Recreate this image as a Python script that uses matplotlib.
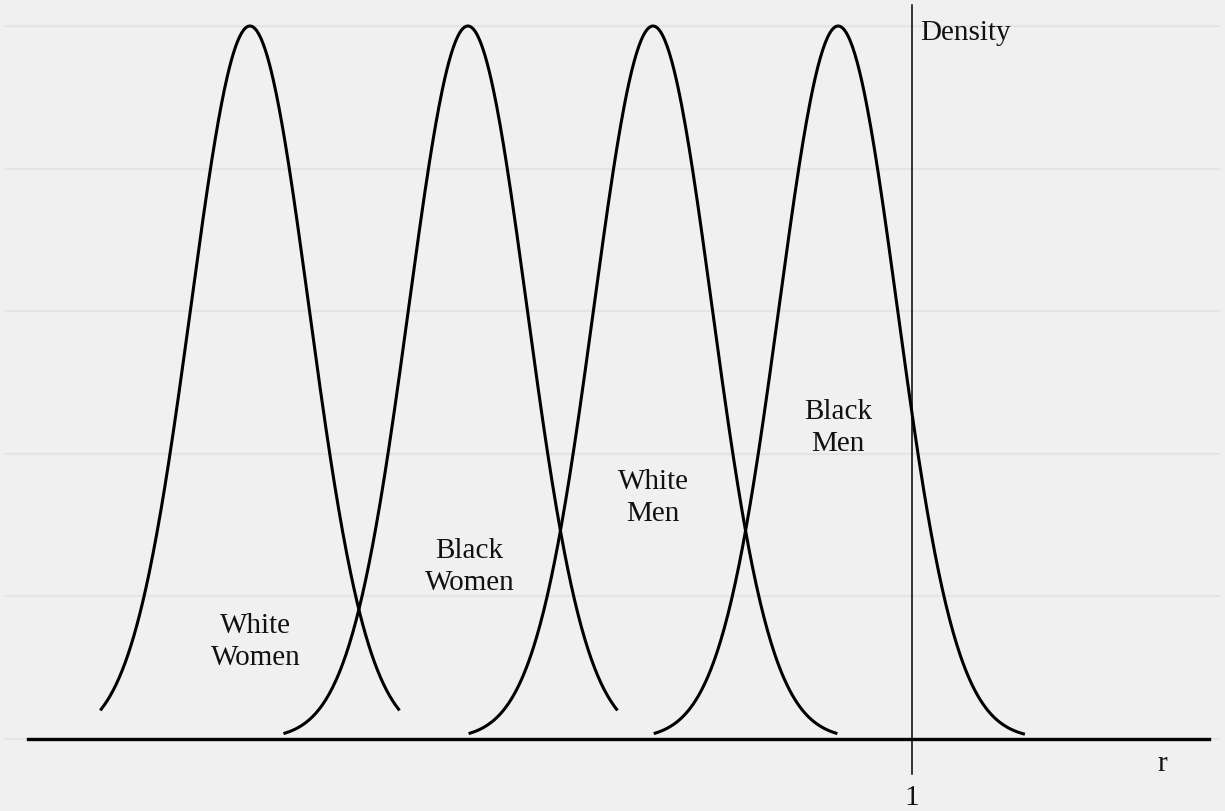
import numpy as np
from matplotlib import pyplot as plt

# groups, their mean ratio r and spread
groups = ["White\nWomen", "Black\nWomen", "White\nMen", "Black\nMen"]
means = [0.274, 0.513, 0.716, 0.919]
sd = 0.0647
# how far each curve is drawn, in sd units (left, right)
z_left = [-2.52, -3.1, -3.1, -3.1]
z_right = [2.52, 2.52, 3.1, 3.14]
grid_levels = [0.0, 0.2, 0.4, 0.6, 0.8, 1.0]

bg = "#f0f0f0"
plt.rcParams['font.family'] = ['Liberation Serif', 'DejaVu Serif']

fig = plt.figure(figsize=(12.25, 8.12), dpi=100, facecolor=bg)
ax = fig.add_axes([0, 0, 1, 1])
ax.set_facecolor(bg)

x_max = 1225 / 912
ax.set_xlim(0, x_max)
ax.set_ylim(-72 / 713, 1 + 27 / 713)

# faint horizontal grid
for g in grid_levels:
    ax.axhline(g, xmin=6 / 1225, xmax=1219 / 1225, color="#e4e4e4", lw=1.6, zorder=0)

# density curves (peak scaled to 1)
for m, zl, zr in zip(means, z_left, z_right):
    z = np.linspace(zl, zr, 300)
    ax.plot(m + z * sd, np.exp(-z**2 / 2), color="black", lw=2.2, zorder=3)

# labels under each curve
label_x = [0.28, 0.515, 0.716, 0.919]
label_y = [0.137, 0.243, 0.34, 0.437]
for name, lx, ly in zip(groups, label_x, label_y):
    ax.text(lx, ly, name, ha="center", va="center", fontsize=21,
            linespacing=1.3, color="#111111")

# x axis and the r = 1 reference line
ax.plot([28 / 912, 1209 / 912], [0, 0], color="black", lw=2.4, zorder=4)
ax.plot([1, 1], [-35 / 713, 1 + 21 / 713], color="black", lw=1.1, zorder=4)

ax.text(1.009, 0.992, "Density", ha="left", va="center", fontsize=21, color="#111111")
ax.text(1162 / 912, -24 / 713, "r", ha="center", va="center", fontsize=21, color="#111111")
ax.text(1, -58 / 713, "1", ha="center", va="center", fontsize=21, color="#111111")

ax.axis("off")
fig.savefig("out.png", dpi=100, facecolor=bg)
